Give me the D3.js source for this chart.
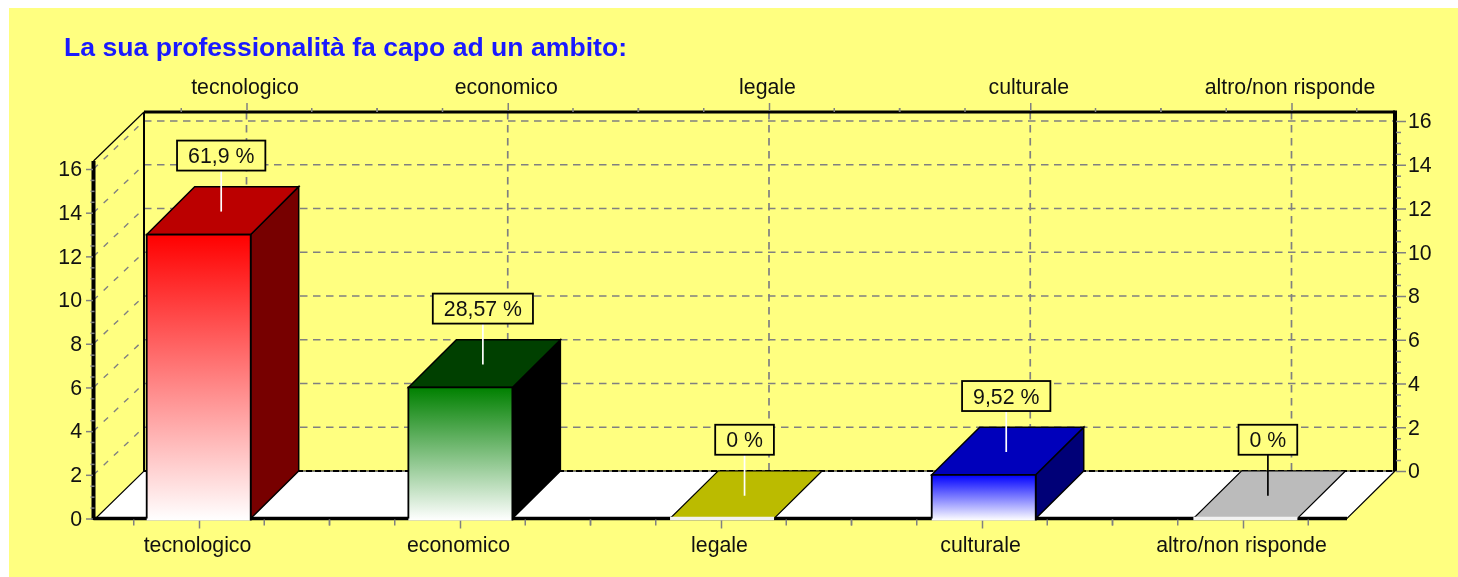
<!DOCTYPE html>
<html>
<head>
<meta charset="utf-8">
<script src="https://cdn.jsdelivr.net/npm/d3@7"></script>
<style>
  html, body { margin: 0; padding: 0; background: #fff; }
  svg { display: block; filter: blur(0.45px); }
  text { font-family: "Liberation Sans", Arial, sans-serif; fill: #111; }
</style>
</head>
<body>
<div id="chart"></div>
<script>
var categories = ["tecnologico", "economico", "legale", "culturale", "altro/non risponde"];
var counts = [13, 6, 0, 2, 0];
var percentLabels = ["61,9 %", "28,57 %", "0 %", "9,52 %", "0 %"];
var yTicks = [0, 2, 4, 6, 8, 10, 12, 14, 16];
var yMinorTicks = d3.range(0.5, 16, 0.5).filter(function (d) { return d % 2 !== 0; });

var frontColors = ["#ff0000", "#008000", "#bbbb00", "#0000ff", "#bbbbbb"];
var topColors = ["#bb0000", "#004000", "#bbbb00", "#0000bb", "#bbbbbb"];
var sideColors = ["#770000", "#000000", "#bbbb00", "#000077", "#bbbbbb"];
var leaderColors = ["#fff", "#fff", "#fff", "#fff", "#000"];

var width = 1458, height = 577;
var svg = d3.select("#chart").append("svg").attr("width", width).attr("height", height);
var defs = svg.append("defs");

svg.append("rect").attr("x", 9).attr("y", 8).attr("width", width - 9).attr("height", height - 8).attr("fill", "#ffff80");

// Front plane scales + back wall scales (depth = shift right and up)
var xFront = d3.scalePoint().domain(categories).range([199, 1243]);
var xBars = d3.scalePoint().domain(categories).range([198.7, 1245.4]);
var xBack = d3.scalePoint().domain(categories).range([246.5, 1291.5]);
var yFront = d3.scaleLinear().domain([0, 16]).range([518.5, 169]);
var yBack = d3.scaleLinear().domain([0, 16]).range([471, 121]);

var depthX = 48;
var barWidth = 104;
var step = xFront.step();
var minorOffsets = [-0.5, -0.25, 0.25, 0.5];

var left = 93.5, right = 1395, backLeft = 144, floorRight = 1347, topY = 112, wallTop = 161;
var fontSize = 21.3;
var gray = "#808080";
var gridDash = "7.5,5.5";

function line(g, x1, y1, x2, y2, color, w, dash) {
    return g.append("line")
        .attr("x1", x1).attr("y1", y1).attr("x2", x2).attr("y2", y2)
        .attr("stroke", color).attr("stroke-width", w)
        .attr("stroke-dasharray", dash || null);
}

// Grid on the back wall and the left wall
var grid = svg.append("g");
yTicks.slice(1).forEach(function (d) {
    line(grid, backLeft, yBack(d), right, yBack(d), gray, 1.7, gridDash);
    line(grid, left, yFront(d), backLeft, yBack(d), gray, 1.4, "6,8");
});
categories.forEach(function (c) {
    line(grid, xBack(c), topY, xBack(c), yBack(0), gray, 1.7, gridDash);
});

// White floor
svg.append("path")
    .attr("d", d3.line()([[left + 2, yFront(0)], [backLeft, yBack(0)], [right, yBack(0)], [floorRight, yFront(0)]]) + "Z")
    .attr("fill", "#fff").attr("stroke", "#000").attr("stroke-width", 1.2);
line(svg, backLeft, yBack(0), right, yBack(0), "#000", 1.8, "6,3");

// Frame
line(svg, backLeft, topY, backLeft, yBack(0), "#000", 2);
line(svg, left, wallTop, backLeft, topY, "#000", 1.2);
line(svg, backLeft, topY, right, topY, "#000", 3);
line(svg, right, topY - 1.5, right, yBack(0), "#000", 4);
line(svg, left, wallTop, left, yFront(0) + 1.5, "#000", 4);
line(svg, left, yFront(0), floorRight, yFront(0), "#000", 3.5);

// Axes
function styleAxis(g) {
    g.select(".domain").remove();
    g.selectAll("line").attr("stroke", gray).attr("stroke-width", 1.5);
    g.selectAll("text").style("font-size", fontSize + "px").style("font-family", null);
}

svg.append("g").attr("transform", "translate(" + (left - 0.5) + ",0)")
    .call(d3.axisLeft(yFront).tickValues(yTicks).tickSize(7).tickPadding(4))
    .call(styleAxis);
svg.append("g").attr("transform", "translate(" + (left + 1) + ",0)")
    .call(d3.axisLeft(yFront).tickValues(yMinorTicks).tickSize(4).tickFormat(""))
    .call(styleAxis);

svg.append("g").attr("transform", "translate(" + (right + 1) + ",0)")
    .call(d3.axisRight(yBack).tickValues(yTicks).tickSize(10).tickPadding(2))
    .call(styleAxis);
svg.append("g").attr("transform", "translate(" + (right + 1) + ",0)")
    .call(d3.axisRight(yBack).tickValues(yMinorTicks).tickSize(5).tickFormat(""))
    .call(styleAxis);

svg.append("g").attr("transform", "translate(0," + (yFront(0) + 1) + ")")
    .call(d3.axisBottom(xFront).tickSize(9).tickPadding(8))
    .call(styleAxis)
    .selectAll("text").attr("dx", -2);
svg.append("g").attr("transform", "translate(0," + (topY - 1) + ")")
    .call(d3.axisTop(xBack).tickSize(8).tickPadding(9))
    .call(styleAxis)
    .selectAll("text").attr("dx", -2);

// Minor ticks on the category axes
categories.forEach(function (c) {
    minorOffsets.forEach(function (k) {
        var xb = xFront(c) + k * step;
        if (xb > left + 5 && xb < floorRight - 5) {
            line(svg, xb, yFront(0) + 1, xb, yFront(0) + 7, gray, 1.5);
        }
        var xt = xBack(c) + k * step;
        if (xt > backLeft + 5 && xt < right - 5) {
            line(svg, xt, topY - 4, xt, topY, gray, 1.5);
        }
    });
});

// Bars
var bars = svg.append("g").selectAll("g").data(categories).enter().append("g");

bars.each(function (c, i) {
    var g = d3.select(this);
    var x0 = xBars(c) - barWidth / 2, x1 = x0 + barWidth;
    var yf = yFront(counts[i]), yf0 = yFront(0), yb = yBack(counts[i]), yb0 = yBack(0);

    if (counts[i] === 0) {
        // Empty category: only a flat plate on the floor
        g.append("path")
            .attr("d", d3.line()([[x0, yf0], [x0 + depthX, yb0], [x1 + depthX, yb0], [x1, yf0]]) + "Z")
            .attr("fill", topColors[i]).attr("stroke", "#000").attr("stroke-width", 1.2);
        line(g, x0, yf0, x1, yf0, "#f2f2f2", 3.5);
        return;
    }

    var grad = defs.append("linearGradient").attr("id", "grad" + i)
        .attr("x1", 0).attr("y1", 0).attr("x2", 0).attr("y2", 1);
    grad.append("stop").attr("offset", "0%").attr("stop-color", frontColors[i]);
    grad.append("stop").attr("offset", "100%").attr("stop-color", "#fff");

    g.append("path")
        .attr("d", d3.line()([[x1, yf], [x1 + depthX, yb], [x1 + depthX, yb0], [x1, yf0]]) + "Z")
        .attr("fill", sideColors[i]).attr("stroke", "#000").attr("stroke-width", 1.5);
    g.append("path")
        .attr("d", d3.line()([[x0, yf], [x0 + depthX, yb], [x1 + depthX, yb], [x1, yf]]) + "Z")
        .attr("fill", topColors[i]).attr("stroke", "#000").attr("stroke-width", 1.5);
    g.append("rect")
        .attr("x", x0).attr("y", yf).attr("width", barWidth).attr("height", yf0 - yf + 2)
        .attr("fill", "url(#grad" + i + ")");
    g.append("path")
        .attr("d", d3.line()([[x0, yf0], [x0, yf], [x1, yf], [x1, yf0 + 2]]))
        .attr("fill", "none").attr("stroke", "#000").attr("stroke-width", 1.8);
});

// Callouts
var boxHeight = 30, leaderLength = 40, boxPadding = 11;
bars.each(function (c, i) {
    var g = d3.select(this);
    var cx = xBars(c) + 22.5;
    var midY = (yFront(counts[i]) + yBack(counts[i])) / 2;
    var boxBottom = midY - leaderLength;

    line(g, cx, midY + 1, cx, boxBottom, leaderColors[i], 1.7);

    var rect = g.append("rect");
    var label = g.append("text")
        .attr("x", cx).attr("y", boxBottom - boxHeight / 2 + 7.5)
        .attr("text-anchor", "middle")
        .style("font-size", fontSize + "px")
        .text(percentLabels[i]);
    var w = label.node().getComputedTextLength() + boxPadding * 2;
    rect.attr("x", cx - w / 2).attr("y", boxBottom - boxHeight)
        .attr("width", w).attr("height", boxHeight)
        .attr("fill", "#ffff80").attr("stroke", "#000").attr("stroke-width", 1.8);
});

svg.append("text")
    .attr("x", 64).attr("y", 56)
    .style("font-size", "26.6px").style("font-weight", "bold").style("fill", "#1a1aff")
    .text("La sua professionalità fa capo ad un ambito:");
</script>
</body>
</html>
